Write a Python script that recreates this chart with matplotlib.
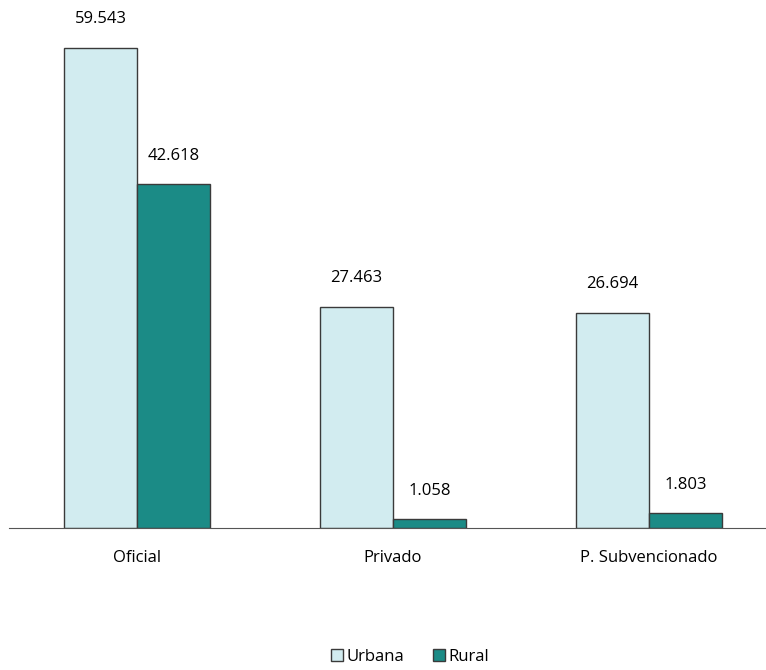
import numpy as np
import matplotlib.pyplot as plt

categorias = ['Oficial', 'Privado', 'P. Subvencionado']
urbana = [59.543, 27.463, 26.694]
rural = [42.618, 1.058, 1.803]

plt.rcParams['font.family'] = ['Open Sans', 'DejaVu Sans']

fig = plt.figure(figsize=(7.66, 6.70), dpi=100)
ax = fig.add_axes([9 / 766, 1 - 528 / 670, 768 / 766, 528 / 670])

x = np.arange(len(categorias))
w = 0.285
b1 = ax.bar(x - w / 2, urbana, w, color='#d2ecf0', edgecolor='#3a3a3a', linewidth=1, label='Urbana')
b2 = ax.bar(x + w / 2, rural, w, color='#1b8b86', edgecolor='#3a3a3a', linewidth=1, label='Rural')

for bars, vals in [(b1, urbana), (b2, rural)]:
    for r, v in zip(bars, vals):
        ax.annotate(f'{v:.3f}', (r.get_x() + r.get_width() / 2, r.get_height()),
                    xytext=(0, 15), textcoords='offset points', ha='center', va='bottom', fontsize=12)

ax.set_xlim(-0.5, 2.5)
ax.set_ylim(0, 65.5)
ax.set_yticks([])
ax.set_xticks(x)
ax.set_xticklabels(categorias, fontsize=12)
ax.tick_params(axis='x', length=0, pad=16)
for s in ['top', 'left', 'right']:
    ax.spines[s].set_visible(False)
ax.spines['bottom'].set_color('#555555')

fig.legend(handles=[b1, b2], loc='center', bbox_to_anchor=(410 / 766, 1 - 657 / 670), ncol=2,
           frameon=False, fontsize=12, handlelength=0.75, handleheight=0.75, handletextpad=0.2,
           columnspacing=1.7)

fig.savefig('out.png', dpi=100)
